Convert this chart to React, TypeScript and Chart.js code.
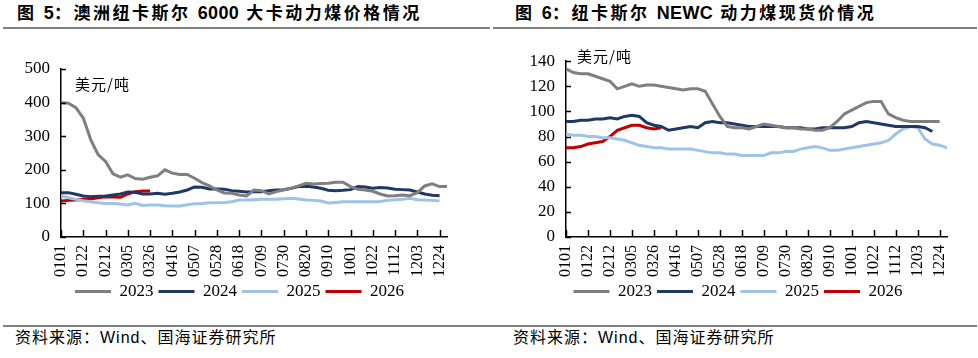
import React, { useEffect, useRef } from "react";
import { Chart, registerables } from "chart.js";

Chart.register(...registerables);

// ---- categories / tick labels ----
const SAMPLE_DAYS = Array.from({ length: 53 }, (_, i) => i * 7); // weekly sampling positions (day of year)
const TICK_DAYS = [0, 21, 42, 63, 84, 105, 126, 147, 168, 189, 210, 231, 252, 273, 294, 315, 336, 357];
const TICK_LABELS = ["0101", "0122", "0212", "0305", "0326", "0416", "0507", "0528", "0618", "0709", "0730", "0820", "0910", "1001", "1022", "1112", "1203", "1224"];
const SERIES_NAMES = ["2023", "2024", "2025", "2026"];
const SERIES_COLORS = ["#7F7F7F", "#1F3864", "#9DC3E6", "#C00000"];

// ---- Chart 5: Newcastle 6000 kcal (USD/t) ----
const AU_2023 = [400, 398, 385, 354, 290, 245, 225, 188, 178, 185, 174, 172, 178, 182, 200, 190, 186, 186, 175, 162, 152, 140, 131, 130, 125, 122, 140, 138, 128, 135, 140, 145, 152, 160, 158, 159, 160, 163, 163, 150, 142, 140, 136, 128, 122, 123, 125, 123, 132, 152, 158, 150, 150];
const AU_2024 = [132, 132, 127, 122, 120, 121, 122, 125, 128, 134, 133, 128, 128, 130, 127, 130, 134, 140, 149, 148, 143, 143, 142, 138, 136, 134, 135, 135, 138, 140, 141, 145, 150, 151, 149, 145, 139, 138, 139, 141, 150, 149, 145, 147, 146, 142, 141, 140, 134, 128, 124, 123];
const AU_2025 = [122, 117, 112, 108, 105, 102, 100, 100, 98, 95, 100, 94, 95, 95, 93, 92, 92, 96, 99, 100, 102, 102, 103, 105, 110, 110, 111, 112, 112, 112, 114, 115, 113, 110, 109, 107, 101, 103, 105, 105, 105, 105, 105, 106, 109, 111, 112, 115, 111, 110, 109, 107];
const AU_2026 = [107, 109, 110, 112, 113, 117, 120, 119, 118, 128, 135, 137, 137];

// ---- Chart 6: Newcastle NEWC spot (USD/t) ----
const NEWC_2023 = [134, 131, 130, 130, 128, 126, 124, 118, 120, 122, 120, 121, 121, 120, 119, 118, 117, 118, 118, 116, 106, 96, 88, 87, 87, 86, 88, 90, 89, 88, 87, 87, 86, 86, 85, 85, 87, 92, 98, 101, 104, 107, 108, 108, 98, 95, 93, 92, 92, 92, 92, 92];
const NEWC_2024 = [92, 92, 93, 93, 94, 94, 95, 94, 96, 97, 96, 91, 89, 88, 85, 86, 87, 88, 87, 91, 92, 91, 91, 90, 89, 88, 88, 88, 88, 88, 87, 87, 87, 86, 86, 87, 87, 87, 87, 88, 91, 92, 91, 90, 89, 88, 88, 88, 88, 87, 84];
const NEWC_2025 = [82, 81, 81, 80, 80, 79, 79, 78, 77, 75, 73, 72, 71, 71, 70, 70, 70, 70, 69, 68, 67, 67, 66, 66, 65, 65, 65, 65, 67, 67, 68, 68, 70, 71, 72, 71, 69, 69, 70, 71, 72, 73, 74, 75, 77, 82, 86, 88, 87, 78, 74, 73, 71];
const NEWC_2026 = [71, 71, 72, 74, 75, 76, 80, 85, 87, 89, 89, 87, 86, 87];

const SERIF = "'Liberation Serif'";
const CJK_SANS = "'Liberation Sans', Arial, 'Noto Sans CJK SC', sans-serif";

Chart.defaults.font.family = SERIF;
Chart.defaults.color = "#000";

const innerTicks = {
  id: "innerTicks",
  afterDraw(chart: any) {
    const { ctx } = chart;
    const xs = chart.scales.x;
    const ys = chart.scales.y;
    ctx.save();
    ctx.strokeStyle = "#000";
    ctx.lineWidth = 1.5;
    ctx.beginPath();
    xs.ticks.forEach((t: any) => {
      const px = Math.round(xs.getPixelForValue(t.value)) + 0.5;
      ctx.moveTo(px, xs.top);
      ctx.lineTo(px, xs.top - 7);
    });
    ys.ticks.forEach((t: any) => {
      const py = Math.round(ys.getPixelForValue(t.value)) + 0.5;
      ctx.moveTo(ys.right, py);
      ctx.lineTo(ys.right + 5, py);
    });
    ctx.stroke();
    ctx.restore();
  },
};

type PanelProps = {
  series: number[][];
  yMax: number;
  yStep: number;
  left: number;
  top: number;
  width: number;
  height: number;
  yWidth: number;
  rightInset: number;
  padTop: number;
};

function LinePanel(p: PanelProps) {
  const ref = useRef<HTMLCanvasElement | null>(null);
  useEffect(() => {
    if (!ref.current) return;
    const datasets = p.series.map((vals, si) => ({
      label: SERIES_NAMES[si],
      data: vals.map((v, i) => ({ x: SAMPLE_DAYS[i], y: v })),
      borderColor: SERIES_COLORS[si],
      backgroundColor: SERIES_COLORS[si],
      borderWidth: 3,
      pointRadius: 0,
      tension: 0,
      fill: false,
    }));
    const chart = new Chart(ref.current, {
      type: "line",
      data: { datasets },
      options: {
        responsive: false,
        animation: false,
        devicePixelRatio: 1,
        layout: { padding: { top: p.padTop, left: 0, right: 0, bottom: 0 } },
        plugins: {
          legend: {
            position: "bottom",
            labels: {
              boxWidth: 36,
              boxHeight: 0,
              padding: 5,
              color: "#000",
              font: { family: SERIF, size: 17 },
            },
          },
          tooltip: { enabled: false },
        },
        scales: {
          x: {
            type: "linear",
            min: 0,
            max: 364,
            afterBuildTicks: (s: any) => {
              s.ticks = TICK_DAYS.map((v) => ({ value: v }));
            },
            afterFit: (s: any) => {
              s.height = 41;
            },
            grid: { display: false, drawTicks: false },
            border: { display: true, color: "#000", width: 1.5 },
            ticks: {
              autoSkip: false,
              minRotation: 90,
              maxRotation: 90,
              padding: 8,
              color: "#000",
              font: { family: SERIF, size: 16 },
              callback: (_v: any, i: number) => TICK_LABELS[i],
            },
          },
          y: {
            min: 0,
            max: p.yMax,
            afterFit: (s: any) => {
              s.width = p.yWidth;
            },
            grid: { display: false, drawTicks: false },
            border: { display: true, color: "#000", width: 1.5 },
            ticks: {
              stepSize: p.yStep,
              padding: 11,
              color: "#000",
              font: { family: SERIF, size: 17 },
            },
          },
          yPad: {
            position: "right",
            display: true,
            afterFit: (s: any) => {
              s.width = p.rightInset;
            },
            grid: { display: false, drawTicks: false },
            border: { display: false },
            ticks: { display: false },
          },
        },
      },
      plugins: [innerTicks],
    } as any);
    return () => chart.destroy();
  }, []);
  return (
    <canvas
      ref={ref}
      width={p.width}
      height={p.height}
      style={{ position: "absolute", left: p.left, top: p.top, width: p.width, height: p.height }}
    />
  );
}

const titleStyle: React.CSSProperties = {
  position: "absolute",
  top: 3,
  fontFamily: CJK_SANS,
  fontWeight: 700,
  fontSize: 17,
  lineHeight: "20px",
  letterSpacing: "2.5px",
  color: "#000",
  whiteSpace: "nowrap",
};
const latin: React.CSSProperties = { letterSpacing: "0.3px", fontSize: 18 };
const sourceStyle: React.CSSProperties = {
  position: "absolute",
  top: 329,
  fontFamily: CJK_SANS,
  fontSize: 16,
  lineHeight: "18px",
  letterSpacing: "1px",
  color: "#000",
  whiteSpace: "nowrap",
};
const unitStyle: React.CSSProperties = {
  position: "absolute",
  fontFamily: "'Noto Sans CJK SC', sans-serif",
  fontSize: 15,
  lineHeight: "18px",
  letterSpacing: "1px",
  color: "#000",
  whiteSpace: "nowrap",
};
const rule = (left: number, top: number, width: number): React.CSSProperties => ({
  position: "absolute",
  left,
  top,
  width,
  height: 2,
  background: "#808080",
});

export default function App() {
  return (
    <div style={{ position: "fixed", left: 0, top: 0, width: 978, height: 358, background: "#fff", overflow: "hidden" }}>
      <div style={{ ...titleStyle, left: 17 }}>
        图 <span style={latin}>5</span>：澳洲纽卡斯尔 <span style={latin}>6000</span> 大卡动力煤价格情况
      </div>
      <div style={{ ...titleStyle, left: 515 }}>
        图 <span style={latin}>6</span>：纽卡斯尔 <span style={latin}>NEWC</span> 动力煤现货价情况
      </div>
      <div style={rule(3, 27, 487)} />
      <div style={rule(493, 27, 484)} />

      <LinePanel
        series={[AU_2023, AU_2024, AU_2025, AU_2026]}
        yMax={500}
        yStep={100}
        left={0}
        top={40}
        width={479}
        height={270}
        yWidth={61}
        rightInset={32}
        padTop={29}
      />
      <LinePanel
        series={[NEWC_2023, NEWC_2024, NEWC_2025, NEWC_2026]}
        yMax={140}
        yStep={20}
        left={498}
        top={40}
        width={480}
        height={270}
        yWidth={68}
        rightInset={31}
        padTop={14}
      />
      <div style={{ ...unitStyle, left: 75, top: 75 }}>美元/吨</div>
      <div style={{ ...unitStyle, left: 577, top: 47 }}>美元/吨</div>

      <div style={rule(3, 325, 487)} />
      <div style={rule(490, 325, 487)} />
      <div style={{ ...sourceStyle, left: 15 }}>资料来源：Wind、国海证券研究所</div>
      <div style={{ ...sourceStyle, left: 513 }}>资料来源：Wind、国海证券研究所</div>
    </div>
  );
}
